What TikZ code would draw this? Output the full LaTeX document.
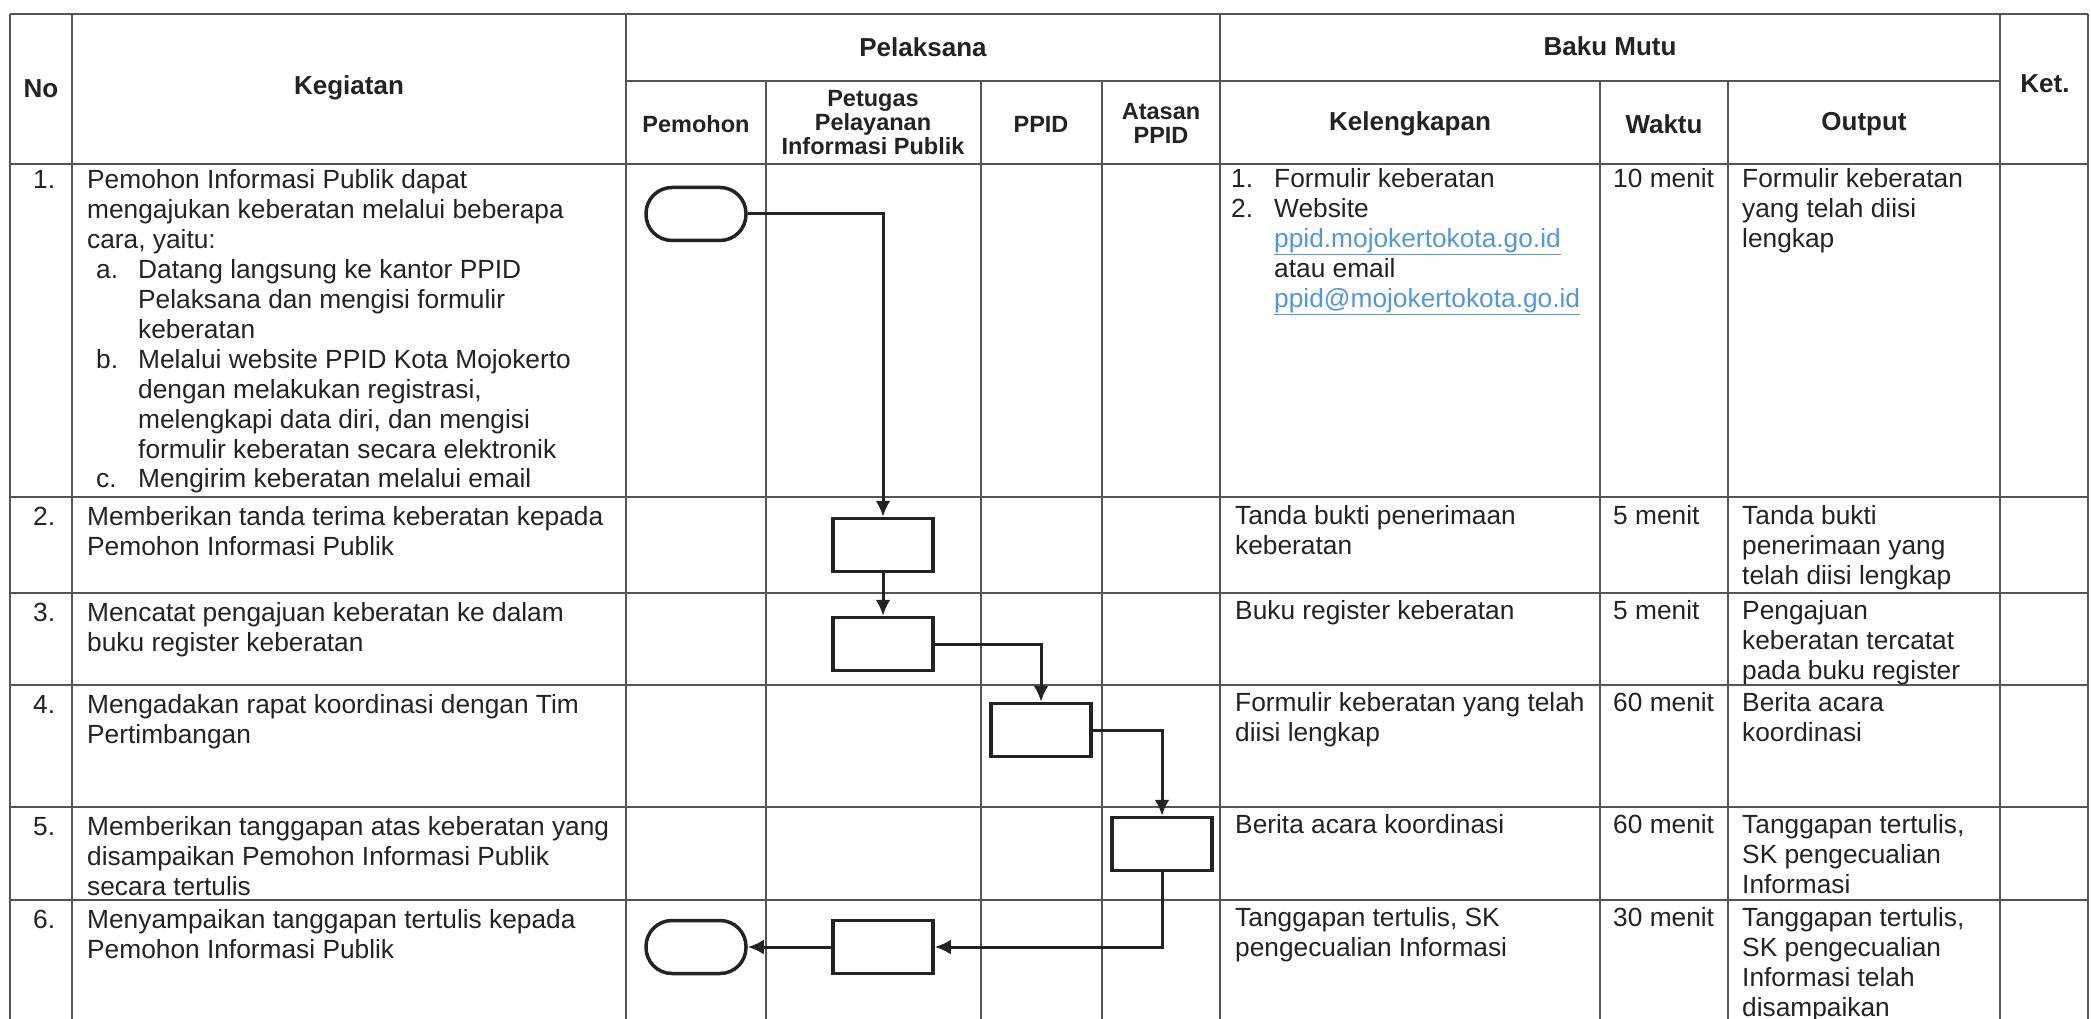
\documentclass[tikz,border=0pt]{standalone}
\usepackage{fontspec}
\setmainfont{Liberation Sans}
\usetikzlibrary{arrows.meta}
\definecolor{ink}{RGB}{35,35,35}
\definecolor{gridc}{RGB}{85,85,85}
\definecolor{linkblue}{RGB}{80,150,230}
\newcommand\tstr{\rule{0pt}{20pt}}
\newcommand\lnk[1]{\textcolor{linkblue}{\underline{#1}}}
\begin{document}
\begin{tikzpicture}[x=1pt,y=-1pt,
  gridline/.style={draw=gridc, line width=1.3pt},
  body/.style={anchor=north west, inner sep=0pt, align=left, text=ink, font=\fontsize{26.3}{30}\selectfont},
  hd/.style={inner sep=0pt, align=center, text=ink, font=\fontsize{26}{28}\selectfont\bfseries},
  sh/.style={inner sep=0pt, align=center, text=ink, font=\fontsize{23.5}{24}\selectfont\bfseries},
  term/.style={draw=ink, line width=3.5pt, rounded corners=26pt, minimum width=100pt, minimum height=53pt, inner sep=0pt},
  proc/.style={draw=ink, line width=3.5pt, minimum width=100pt, minimum height=53pt, inner sep=0pt},
  flow/.style={draw=ink, line width=3pt, -{Latex[length=16pt,width=15pt]}}
]
\useasboundingbox (0,0) rectangle (2091,1019);
\fill[white] (0,0) rectangle (2091,1019);

% table grid
\draw[gridline] (10,14) -- (2088,14);
\draw[gridline] (626,81) -- (2000,81);
\draw[gridline] (10,164) -- (2088,164);
\foreach \r in {497,593,685,807,900} \draw[gridline] (10,\r) -- (2088,\r);
\foreach \c in {10,72,626,1220,2000,2088} \draw[gridline] (\c,14) -- (\c,1019);
\foreach \c in {766,981,1102,1600,1728} \draw[gridline] (\c,81) -- (\c,1019);

% headers
\node[hd] (hNo) at (41,89) {No};
\node[hd] (hKeg) at (349,88) {Kegiatan};
\node[hd] (hPel) at (923,47) {Pelaksana};
\node[hd] (hBaku) at (1610,46) {Baku Mutu};
\node[hd] (hKet) at (2045,84) {Ket.};
\node[sh] (hPem) at (696,124) {Pemohon};
\node[sh] (hPet) at (873,123) {Petugas\\Pelayanan\\Informasi Publik};
\node[sh] (hPPID) at (1041,124) {PPID};
\node[sh] (hAtas) at (1161,123) {Atasan\\PPID};
\node[hd] (hKel) at (1410,124) {Kelengkapan};
\node[hd] (hWak) at (1664,124) {Waktu};
\node[hd] (hOut) at (1864,124) {Output};

% numbers
\node[body] (n1) at (33,168) {\tstr 1.};
\node[body] (n2) at (33,505) {\tstr 2.};
\node[body] (n3) at (33,601) {\tstr 3.};
\node[body] (n4) at (33,693) {\tstr 4.};
\node[body] (n5) at (33,815) {\tstr 5.};
\node[body] (n6) at (33,908) {\tstr 6.};

% kegiatan
\node[body] (k1) at (87,168) {\tstr Pemohon Informasi Publik dapat\\mengajukan keberatan melalui beberapa\\cara, yaitu:};
\node[body] (k1al) at (96,258) {\tstr a.};
\node[body] (k1at) at (138,258) {\tstr Datang langsung ke kantor PPID\\Pelaksana dan mengisi formulir\\keberatan};
\node[body] (k1bl) at (96,348) {\tstr b.};
\node[body] (k1bt) at (138,348) {\tstr Melalui website PPID Kota Mojokerto\\dengan melakukan registrasi,\\melengkapi data diri, dan mengisi\\formulir keberatan secara elektronik};
\node[body] (k1cl) at (96,467) {\tstr c.};
\node[body] (k1ct) at (138,467) {\tstr Mengirim keberatan melalui email};
\node[body] (k2) at (87,505) {\tstr Memberikan tanda terima keberatan kepada\\Pemohon Informasi Publik};
\node[body] (k3) at (87,601) {\tstr Mencatat pengajuan keberatan ke dalam\\buku register keberatan};
\node[body] (k4) at (87,693) {\tstr Mengadakan rapat koordinasi dengan Tim\\Pertimbangan};
\node[body] (k5) at (87,815) {\tstr Memberikan tanggapan atas keberatan yang\\disampaikan Pemohon Informasi Publik\\secara tertulis};
\node[body] (k6) at (87,908) {\tstr Menyampaikan tanggapan tertulis kepada\\Pemohon Informasi Publik};

% kelengkapan
\node[body] (kel1al) at (1231,167) {\tstr 1.};
\node[body] (kel1at) at (1274,167) {\tstr Formulir keberatan};
\node[body] (kel1bl) at (1231,197) {\tstr 2.};
\node[body] (kel1bt) at (1274,197) {\tstr Website\\\lnk{ppid.mojokertokota.go.id}\\atau email\\\lnk{ppid@mojokertokota.go.id}};
\node[body] (kel2) at (1235,504) {\tstr Tanda bukti penerimaan\\keberatan};
\node[body] (kel3) at (1235,599) {\tstr Buku register keberatan};
\node[body] (kel4) at (1235,691) {\tstr Formulir keberatan yang telah\\diisi lengkap};
\node[body] (kel5) at (1235,813) {\tstr Berita acara koordinasi};
\node[body] (kel6) at (1235,906) {\tstr Tanggapan tertulis, SK\\pengecualian Informasi};

% waktu
\node[body] (w1) at (1613,167) {\tstr 10 menit};
\node[body] (w2) at (1613,504) {\tstr 5 menit};
\node[body] (w3) at (1613,599) {\tstr 5 menit};
\node[body] (w4) at (1613,691) {\tstr 60 menit};
\node[body] (w5) at (1613,813) {\tstr 60 menit};
\node[body] (w6) at (1613,906) {\tstr 30 menit};

% output
\node[body] (o1) at (1742,167) {\tstr Formulir keberatan\\yang telah diisi\\lengkap};
\node[body] (o2) at (1742,504) {\tstr Tanda bukti\\penerimaan yang\\telah diisi lengkap};
\node[body] (o3) at (1742,599) {\tstr Pengajuan\\keberatan tercatat\\pada buku register};
\node[body] (o4) at (1742,691) {\tstr Berita acara\\koordinasi};
\node[body] (o5) at (1742,813) {\tstr Tanggapan tertulis,\\SK pengecualian\\Informasi};
\node[body] (o6) at (1742,906) {\tstr Tanggapan tertulis,\\SK pengecualian\\Informasi telah\\disampaikan};

% flow shapes
\node[term] (t1) at (696,214) {};
\node[proc] (b2) at (883,545) {};
\node[proc] (b3) at (883,644) {};
\node[proc] (b4) at (1041,730) {};
\node[proc] (b5) at (1162,844) {};
\node[proc] (b6) at (883,947) {};
\node[term] (t2) at (696,947) {};

% connectors
\draw[flow] (t1.east) -| (b2.north);
\draw[flow] (b2.south) -- (b3.north);
\draw[flow] (b3.east) -| (b4.north);
\draw[flow] (b4.east) -| (b5.north);
\draw[flow] (b5.south) |- (b6.east);
\draw[flow] (b6.west) -- (t2.east);
\end{tikzpicture}
\end{document}
